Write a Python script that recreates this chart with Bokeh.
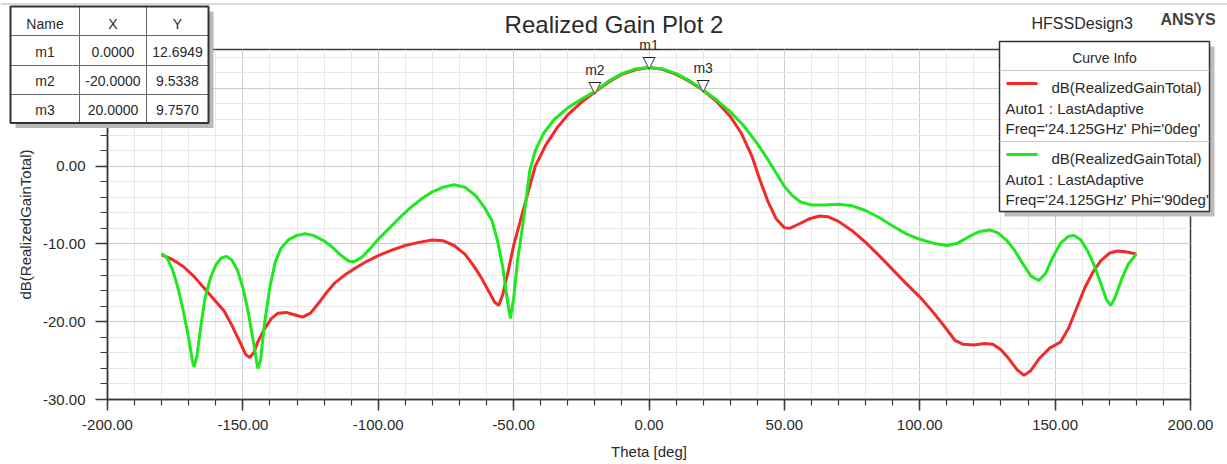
from bokeh.plotting import figure
from bokeh.models import Range1d, FixedTicker, PrintfTickFormatter
from bokeh.core.properties import value
from bokeh.embed import file_html
from bokeh.resources import INLINE

# ---------------- data ----------------
theta_phi0 = [-180, -176, -172, -168, -164, -160, -157, -154, -151, -149, -147.5, -146, -144.5,
              -142, -139.5, -137, -134, -131, -128, -125, -122, -119, -116, -112, -108, -104,
              -100, -95, -90, -85, -80, -76, -72, -68, -65, -62, -59, -57, -55.5, -54, -52,
              -50, -47.5, -45, -42, -38, -34, -30, -25, -20, -15, -10, -5, 0, 5, 10, 15, 20,
              25, 30, 34, 38, 41, 44, 47, 50, 52, 55, 59, 63, 66, 70, 75, 80, 85, 90, 95, 100,
              105, 110, 113, 116, 120, 124, 127, 130, 133, 136, 138.5, 141, 144, 148, 152, 155,
              158, 161, 164, 167, 170, 173, 176, 180]
gain_phi0 = [-11.4, -12.0, -12.9, -14.2, -15.8, -17.4, -18.6, -20.5, -22.7, -24.2, -24.6, -24.0, -22.6,
             -20.9, -19.6, -18.9, -18.8, -19.1, -19.4, -18.9, -17.6, -16.2, -15.0, -13.9, -13.0, -12.2,
             -11.5, -10.8, -10.2, -9.8, -9.5, -9.6, -10.2, -11.3, -12.7, -14.3, -16.2, -17.5, -17.9, -16.5, -13.5,
             -10.2, -7.0, -3.8, 0.0, 2.8, 4.9, 6.6, 8.2, 9.53, 10.8, 11.8, 12.4, 12.69, 12.45, 11.8, 10.9, 9.76,
             8.3, 6.4, 4.3, 1.3, -1.8, -4.6, -6.8, -7.9, -8.0, -7.5, -6.8, -6.4, -6.5, -7.1, -8.3, -9.8, -11.5, -13.3, -15.1, -16.8,
             -18.8, -21.0, -22.4, -22.9, -23.0, -22.8, -22.9, -23.6, -24.8, -26.2, -26.9, -26.3, -24.8, -23.4, -22.6, -20.8,
             -18.2, -15.6, -13.6, -12.1, -11.2, -10.9, -11.0, -11.3]

theta_phi90 = [-180, -178, -176, -174, -172, -170, -168.5, -168, -167, -165.5, -164, -162, -160, -158, -156,
               -154, -152, -150, -148, -146, -144.5, -143.5, -142, -140, -138, -136, -133, -130, -127, -124,
               -120, -117, -114, -111, -109, -106, -103, -100, -96, -92, -88, -84, -80, -76, -72, -68, -64,
               -61, -58, -56, -54, -52.5, -51.2, -50, -48.5, -47, -46, -45, -44, -42, -39, -35, -30, -25, -20,
               -15, -10, -5, 0, 5, 10, 15, 20, 25, 30, 35, 40, 44, 47, 50, 53, 56, 60, 65, 70, 75, 80, 85, 90,
               95, 100, 105, 110, 114, 118, 122, 126, 129, 132, 135, 138, 141, 144, 146.5, 149, 152, 155, 157,
               159.5, 162, 164.5, 167, 169, 170.5, 172, 174.5, 177, 180]
gain_phi90 = [-11.2, -11.8, -13.3, -15.6, -18.6, -22.2, -25.3, -25.8, -24.5, -20.5, -17.0, -14.4, -12.7, -11.8, -11.6,
              -12.1, -13.4, -15.6, -18.8, -22.8, -26.0, -25.0, -20.2, -15.5, -12.3, -10.6, -9.4, -8.9, -8.7, -8.9,
              -9.6, -10.4, -11.4, -12.2, -12.3, -11.7, -10.6, -9.4, -8.0, -6.6, -5.3, -4.2, -3.3, -2.7, -2.4, -2.7, -3.8,
              -5.2, -7.0, -9.5, -13.0, -16.8, -19.6, -17.0, -12.0, -8.5, -6.0, -3.2, -0.5, 2.0, 4.2, 6.0, 7.5, 8.6, 9.6,
              10.9, 11.9, 12.5, 12.69, 12.5, 11.9, 11.0, 9.8, 8.5, 7.0, 5.2, 2.9, 0.8, -0.9, -2.6, -3.8, -4.6, -5.0, -5.0, -4.9, -5.1, -5.7, -6.6, -7.7,
              -8.7, -9.4, -9.9, -10.2, -9.9, -9.1, -8.4, -8.2, -8.6, -9.5, -10.8, -12.5, -14.1, -14.7, -13.8, -11.8, -9.9, -9.0, -8.9,
              -9.5, -10.9, -12.8, -15.2, -17.2, -17.9, -17.0, -14.6, -12.6, -11.3]

marker_names = ["m1", "m2", "m3"]
marker_x = [0.0, -20.0, 20.0]
marker_y = [12.6949, 9.5338, 9.7570]

x_ticks = [-200, -150, -100, -50, 0, 50, 100, 150, 200]
x_minor = list(range(-200, 201, 10))
y_ticks = [-30, -20, -10, 0, 10]
y_minor = list(range(-30, 16, 2))

curve_labels = ["dB(RealizedGainTotal)", "dB(RealizedGainTotal)"]
curve_ctx = ["Auto1 : LastAdaptive", "Auto1 : LastAdaptive"]
curve_freq = ["Freq='24.125GHz' Phi='0deg'", "Freq='24.125GHz' Phi='90deg'"]
curve_colors = ["#f22a2a", "#1fe81f"]

# ---------------- main figure ----------------
W, H = 1227, 464
BL, BR, BT, BB = 107, 37, 49, 65
X0, X1, Y0, Y1 = -200, 200, -30, 15
FONT = "Liberation Sans"
TXT = "#2a2a2a"

p = figure(width=W, height=H, output_backend="svg", toolbar_location=None,
           x_range=Range1d(X0, X1), y_range=Range1d(Y0, Y1),
           min_border_left=BL, min_border_right=BR, min_border_top=BT, min_border_bottom=BB)
p.background_fill_color = "white"
p.border_fill_color = "white"
p.outline_line_color = "#3a3a3a"
p.outline_line_width = 1.5

for ax in (p.xaxis[0], p.yaxis[0]):
    ax.axis_line_color = "#3a3a3a"
    ax.axis_line_width = 1.5
    ax.major_tick_line_color = "#3a3a3a"
    ax.minor_tick_line_color = "#3a3a3a"
    ax.major_tick_line_width = 1.5
    ax.minor_tick_line_width = 1.2
    ax.major_tick_in = 0
    ax.minor_tick_in = 0
    ax.major_label_text_font = FONT
    ax.major_label_text_font_size = "15px"
    ax.major_label_text_color = TXT
    ax.axis_label_text_font = FONT
    ax.axis_label_text_font_size = "15px"
    ax.axis_label_text_font_style = "normal"
    ax.axis_label_text_color = TXT
    ax.formatter = PrintfTickFormatter(format="%.2f")

p.xaxis.ticker = FixedTicker(ticks=x_ticks, minor_ticks=x_minor)
p.yaxis.ticker = FixedTicker(ticks=y_ticks, minor_ticks=y_minor)
p.xaxis.major_tick_out = 11
p.xaxis.minor_tick_out = 6
p.xaxis.major_label_standoff = 9
p.xaxis.axis_label_standoff = 10
p.yaxis.major_tick_out = 12
p.yaxis.minor_tick_out = 7
p.yaxis.major_label_standoff = 10
p.yaxis.axis_label_standoff = 6
p.xaxis.axis_label = "Theta [deg]"
p.yaxis.axis_label = "dB(RealizedGainTotal)"

for g in (p.xgrid[0], p.ygrid[0]):
    g.grid_line_color = "#cdcdcd"
    g.grid_line_width = 1
    g.minor_grid_line_color = "#e8e8e8"
    g.minor_grid_line_width = 1
p.xgrid.ticker = FixedTicker(ticks=x_ticks, minor_ticks=x_minor)
p.ygrid.ticker = FixedTicker(ticks=y_ticks, minor_ticks=y_minor)

p.line(theta_phi0, gain_phi0, line_color=curve_colors[0], line_width=3)
p.line(theta_phi90, gain_phi90, line_color=curve_colors[1], line_width=3)

# ---------------- overlay (annotations drawn across frame and borders) ----------------
ov = figure(width=W, height=H, output_backend="svg", toolbar_location=None,
            x_range=Range1d(0, W), y_range=Range1d(H, 0),
            x_axis_location=None, y_axis_location=None, min_border=0)
ov.background_fill_alpha = 0
ov.border_fill_alpha = 0
ov.outline_line_color = None
ov.grid.visible = False
ov.styles = {"position": "absolute", "top": "0px", "left": "0px", "z-index": "2"}

# same data scale as the main frame, extended over the whole canvas
sx = (X1 - X0) / (W - BL - BR)
sy = (Y1 - Y0) / (H - BT - BB)
ov.extra_x_ranges = {"d": Range1d(X0 - BL * sx, X1 + BR * sx)}
ov.extra_y_ranges = {"d": Range1d(Y0 - BB * sy, Y1 + BT * sy)}

# markers: inverted triangles with names
ov.text(marker_x, marker_y, text=["\u25bc"] * 3, text_color="white", text_font=value("DejaVu Sans"),
        text_font_size="17px", text_align="center", text_baseline="alphabetic", y_offset=-5,
        x_range_name="d", y_range_name="d")
ov.text(marker_x, marker_y, text=["\u25bd"] * 3, text_color="#222222", text_font=value("DejaVu Sans"),
        text_font_size="17px", text_align="center", text_baseline="alphabetic", y_offset=-5,
        x_range_name="d", y_range_name="d")
ov.text(marker_x, marker_y, text=marker_names, text_color=TXT, text_font=value(FONT),
        text_font_size="14px", text_align="center", text_baseline="middle", y_offset=-22,
        x_range_name="d", y_range_name="d")


def txt(x, y, s, size="14px", align="left", style="normal", color=TXT):
    ov.text([x], [y], text=[s], text_font=value(FONT), text_font_size=size, text_font_style=style,
            text_color=color, text_align=align, text_baseline="middle")


def rect(l, t, r, b, fill="white", line=None, lw=1.0):
    ov.quad(left=[l], right=[r], top=[t], bottom=[b], fill_color=fill,
            line_color=line, line_width=lw)


# window top rule
ov.segment(x0=[0], y0=[3.5], x1=[W], y1=[3.5], line_color="#b4b4b4", line_width=1)

# titles
txt(613.5, 24, "Realized Gain Plot 2", size="24px", align="center")
txt(1031, 23, "HFSSDesign3", size="16px")
txt(1160, 18.5, "ANSYS", size="16px", style="bold", color="#444444")

# marker table
tab_cols = [10, 79, 146, 208]
tab_rows = [6, 35, 65, 94, 122.5]
rect(tab_cols[0] + 5, tab_rows[0] + 5, tab_cols[-1] + 5, tab_rows[-1] + 5, fill="#b8b8b8")
for i in range(3):
    for j in range(4):
        rect(tab_cols[i], tab_rows[j], tab_cols[i + 1], tab_rows[j + 1], fill="white", line="#666666", lw=1)
rect(tab_cols[0], tab_rows[0], tab_cols[-1], tab_rows[-1], fill=None, line="#333333", lw=2)
table_header = ["Name", "X", "Y"]
table_rows = [[n, "%.4f" % x, "%.4f" % y] for n, x, y in zip(marker_names, marker_x, marker_y)]
text_rows_y = [23, 51.5, 80.5, 109]
for i, h in enumerate(table_header):
    txt((tab_cols[i] + tab_cols[i + 1]) / 2, text_rows_y[0], h, align="center")
for j, row in enumerate(table_rows):
    for i, t in enumerate(row):
        txt((tab_cols[i] + tab_cols[i + 1]) / 2, text_rows_y[j + 1], t, align="center")

# curve info legend
lg_l, lg_r, lg_t, lg_b = 999, 1209, 41, 211
rect(lg_l + 5, lg_t + 5, lg_r + 5, lg_b + 5, fill="#bdbdbd")
rect(lg_l, lg_t, lg_r, lg_b, fill="white", line="#333333", lw=1.5)
ov.segment(x0=[lg_l, lg_l], y0=[70, 141], x1=[lg_r, lg_r], y1=[70, 141], line_color="#c8c8c8", line_width=1)
txt((lg_l + lg_r) / 2, 57, "Curve Info", align="center")
group_top = [83, 154]
for k in range(2):
    y0 = group_top[k]
    ov.segment(x0=[1006], y0=[y0], x1=[1037], y1=[y0], line_color=curve_colors[k], line_width=3)
    txt(1051, y0 + 4, curve_labels[k], size="15px")
    txt(1005, y0 + 24.5, curve_ctx[k], size="15px")
    txt(1005, y0 + 44.5, curve_freq[k], size="15px")

open("out.html", "w").write(file_html([p, ov], INLINE))
